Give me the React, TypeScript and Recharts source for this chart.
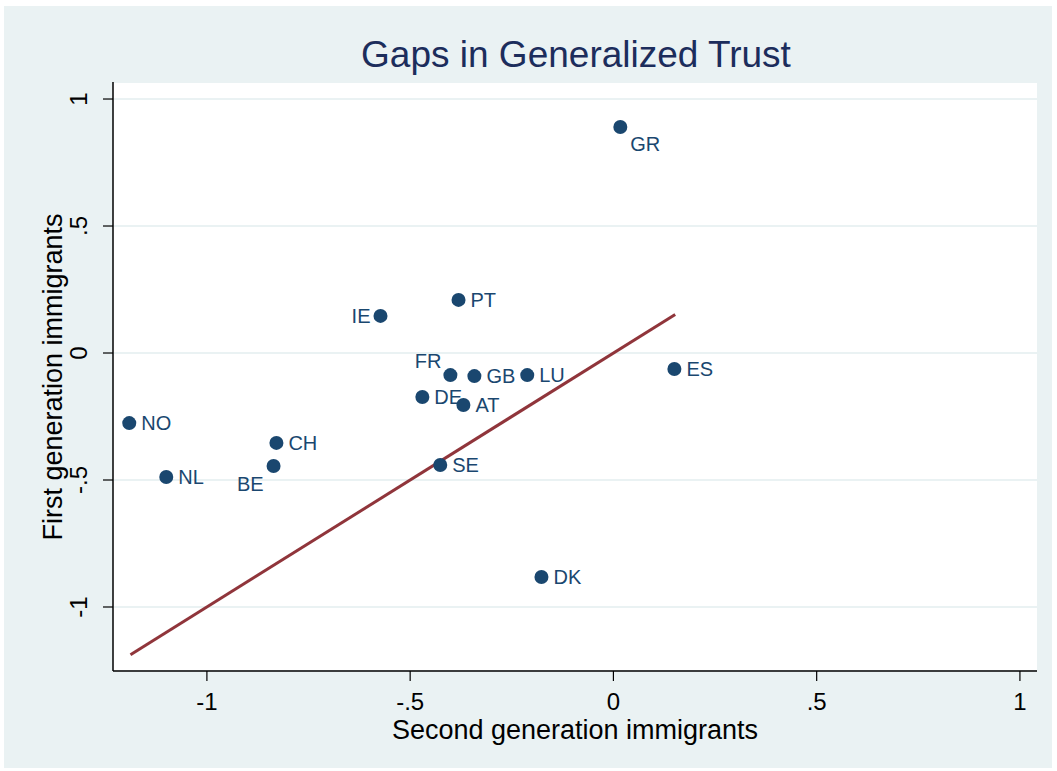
import React from "react";
import {
  ScatterChart,
  Scatter,
  XAxis,
  YAxis,
  CartesianGrid,
  ReferenceLine,
} from "recharts";

const countries = ["GR", "PT", "IE", "FR", "GB", "LU", "ES", "DE", "AT", "NO", "CH", "BE", "NL", "SE", "DK"];
const secondGen = [0.017, -0.381, -0.573, -0.401, -0.342, -0.212, 0.150, -0.470, -0.369, -1.191, -0.829, -0.836, -1.100, -0.426, -0.177];
const firstGen = [0.890, 0.209, 0.146, -0.087, -0.091, -0.087, -0.063, -0.173, -0.205, -0.276, -0.354, -0.445, -0.488, -0.441, -0.882];
// Stata-style clock positions for marker labels
const labelClock = [4, 3, 9, 11, 3, 3, 3, 3, 3, 3, 3, 7, 3, 3, 3];

const xTicks = [-1, -0.5, 0, 0.5, 1];
const yTicks = [-1, -0.5, 0, 0.5, 1];
const fitLine = { x1: -1.188, y1: -1.188, x2: 0.152, y2: 0.152 };

const W = 1057;
const H = 771;
const NAVY = "#1a476f";
const MAROON = "#90353b";
const BG = "#eaf2f3";
const FONT = "'Liberation Sans', Arial, Helvetica, sans-serif";

const data = countries.map((c, i) => ({ name: c, x: secondGen[i], y: firstGen[i], pos: labelClock[i] }));

const fmt = (v: number) => {
  if (v === 0) return "0";
  const s = String(v);
  return s.replace("0.", ".");
};

const Dot = (props: any) => {
  const { cx, cy, payload } = props;
  const pos = payload.pos;
  let tx = cx + 12;
  let ty = cy + 7;
  let anchor: "start" | "end" = "start";
  if (pos === 4) {
    tx = cx + 10;
    ty = cy + 24;
  } else if (pos === 9) {
    tx = cx - 10;
    anchor = "end";
  } else if (pos === 11) {
    tx = cx - 9;
    ty = cy - 7;
    anchor = "end";
  } else if (pos === 7) {
    tx = cx - 10;
    ty = cy + 25;
    anchor = "end";
  }
  return (
    <g>
      <circle cx={cx} cy={cy} r={7} fill={NAVY} />
      <text x={tx} y={ty} textAnchor={anchor} fontSize={20} fill={NAVY} fontFamily={FONT}>
        {payload.name}
      </text>
    </g>
  );
};

const XTick = (props: any) => {
  const { x, y, payload } = props;
  return (
    <text x={x} y={y + 29} textAnchor="middle" fontSize={24} fill="#000" fontFamily={FONT}>
      {fmt(payload.value)}
    </text>
  );
};

const YTick = (props: any) => {
  const { x, y, payload } = props;
  const bx = x - 16;
  return (
    <text
      x={bx}
      y={y}
      textAnchor="middle"
      fontSize={24}
      fill="#000"
      fontFamily={FONT}
      transform={`rotate(-90, ${bx}, ${y})`}
    >
      {fmt(payload.value)}
    </text>
  );
};

export default function App() {
  return (
    <div style={{ position: "absolute", left: 0, top: 0, width: W, height: H, background: "#fff", overflow: "hidden" }}>
      <div style={{ position: "absolute", left: 4, top: 6, width: 1048, height: 762, background: BG }} />
      <div style={{ position: "absolute", left: 0, top: 0 }}>
        <ScatterChart width={W} height={H} margin={{ top: 82, right: 20, bottom: 40, left: 53 }}>
          <CartesianGrid vertical={false} horizontal={true} stroke={BG} strokeWidth={2} fill="#fff" />
          <XAxis
            type="number"
            dataKey="x"
            domain={[-1.231, 1.042]}
            ticks={xTicks}
            allowDataOverflow
            height={60}
            axisLine={{ stroke: "#000", strokeWidth: 1.5 }}
            tickLine={{ stroke: "#000", strokeWidth: 1.2 }}
            tickSize={10}
            tickMargin={0}
            tick={<XTick />}
            interval={0}
          />
          <YAxis
            type="number"
            dataKey="y"
            domain={[-1.252, 1.067]}
            ticks={yTicks}
            allowDataOverflow
            width={60}
            axisLine={{ stroke: "#000", strokeWidth: 1.5 }}
            tickLine={{ stroke: "#000", strokeWidth: 1.2 }}
            tickSize={10}
            tickMargin={0}
            tick={<YTick />}
            interval={0}
          />
          <Scatter data={data} isAnimationActive={false} shape={<Dot />} />
          <ReferenceLine
            segment={[
              { x: fitLine.x1, y: fitLine.y1 },
              { x: fitLine.x2, y: fitLine.y2 },
            ]}
            stroke={MAROON}
            strokeWidth={3}
            ifOverflow="visible"
          />
        </ScatterChart>
      </div>
      <svg width={W} height={H} style={{ position: "absolute", left: 0, top: 0, pointerEvents: "none" }}>
        <text x={576} y={67} textAnchor="middle" fontSize={37} fill="#1c2d5c" fontFamily={FONT}>
          Gaps in Generalized Trust
        </text>
        <text x={575} y={739} textAnchor="middle" fontSize={27} fill="#000" fontFamily={FONT}>
          Second generation immigrants
        </text>
        <text
          x={62}
          y={377}
          textAnchor="middle"
          fontSize={27}
          fill="#000"
          fontFamily={FONT}
          transform="rotate(-90, 62, 377)"
        >
          First generation immigrants
        </text>
      </svg>
    </div>
  );
}
